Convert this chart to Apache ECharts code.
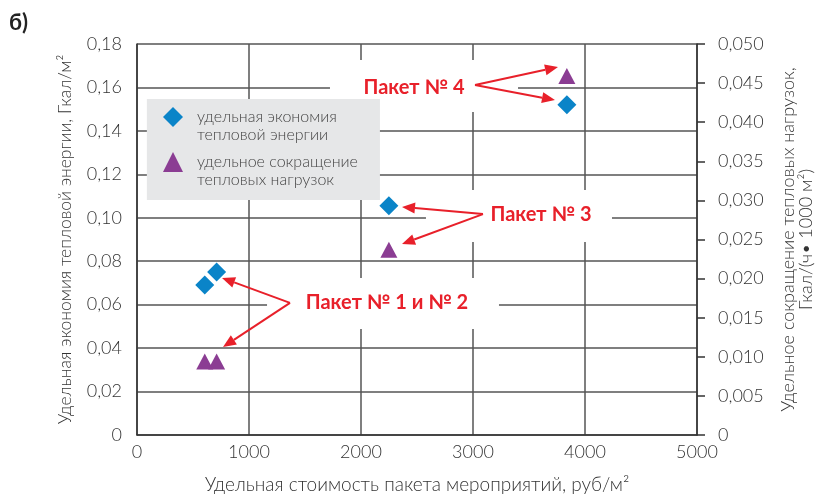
<!DOCTYPE html>
<html><head><meta charset="utf-8">
<script src="https://cdn.jsdelivr.net/npm/echarts@6/dist/echarts.min.js"></script>
<style>html,body{margin:0;padding:0;background:#fff}#c{width:819px;height:496px}</style>
</head><body><div id="c"></div>
<script>
// ---- data ----
const costX = [605, 711, 2249, 3838];                 // руб/м²
const energySaving = [0.069, 0.075, 0.1055, 0.152];   // Гкал/м² (left axis)
const loadReduction = [0.0094, 0.0094, 0.0237, 0.0459]; // Гкал/(ч·1000 м²) (right axis)
const seriesNames = ['удельная экономия\nтепловой энергии', 'удельное сокращение\nтепловых нагрузок'];
const xRange = [0, 5000, 1000];
const yLeftRange = [0, 0.18, 0.02];
const yRightRange = [0, 0.05, 0.005];
// annotations in data coordinates (x, left-axis y)
const annLabels = ['Пакет № 4', 'Пакет № 3', 'Пакет № 1 и № 2'];
const annTextAt = [[2473, 0.160], [3607, 0.1013], [2232, 0.0612]];
const annBoxes = [[[1723, 0.1726], [3402, 0.1487]], [[2580, 0.1128], [4241, 0.0889]], [[1161, 0.0723], [3232, 0.0488]]];
const annFrom = [[3018, 0.1611], [3089, 0.1017], [1366, 0.0608]];
const annTo = [[[3759, 0.1694], [3732, 0.1542]], [[2366, 0.1050], [2366, 0.0879]], [[759, 0.0723], [768, 0.0405]]];

const FONT = 'Lato, "Open Sans", sans-serif';
const RED = '#e8202a';
const comma = (v, d) => v === 0 ? '0' : v.toFixed(d).replace('.', ',');

const chart = echarts.init(document.getElementById('c'));
const option = {
  animation: false,
  backgroundColor: '#fff',
  title: { text: 'б)', left: 9, top: 12, padding: 0, textStyle: { fontSize: 22, fontWeight: 'bold', color: '#222', fontFamily: FONT } },
  grid: { left: 137, right: 122, top: 44, bottom: 61, outerBoundsMode: 'none', containLabel: false },
  legend: {
    orient: 'vertical', left: 163, top: 90, padding: 0, itemGap: -9,
    itemWidth: 20, itemHeight: 20,
    data: seriesNames,
    formatter: n => '\n' + n,
    textStyle: { fontSize: 16, fontWeight: 300, color: '#444', lineHeight: 18, fontFamily: FONT, padding: [0, 0, 0, 9] }
  },
  xAxis: {
    type: 'value', min: xRange[0], max: xRange[1], interval: xRange[2],
    name: 'Удельная стоимость пакета мероприятий, руб/м²', nameLocation: 'middle', nameGap: 40,
    nameTextStyle: { fontSize: 19, fontWeight: 300, color: '#333', fontFamily: FONT },
    axisLine: { show: true, lineStyle: { color: '#333', width: 1.5 } },
    axisTick: { show: false },
    axisLabel: { fontSize: 18, fontWeight: 300, color: '#333', margin: 8, fontFamily: FONT, formatter: v => String(v) },
    splitLine: { show: true, lineStyle: { color: '#555', width: 1.5 } }
  },
  yAxis: [{
    type: 'value', min: yLeftRange[0], max: yLeftRange[1], interval: yLeftRange[2],
    position: 'left',
    name: 'Удельная экономия тепловой энергии, Гкал/м²', nameLocation: 'middle', nameGap: 63, nameRotate: 90,
    nameTextStyle: { fontSize: 17.5, fontWeight: 300, color: '#333', fontFamily: FONT },
    axisLine: { show: true, lineStyle: { color: '#333', width: 1.5 } },
    axisTick: { show: false },
    axisLabel: { fontSize: 18, fontWeight: 300, color: '#333', margin: 15, fontFamily: FONT, formatter: v => comma(v, 2) },
    splitLine: { show: true, lineStyle: { color: '#555', width: 1.5 } }
  }, {
    type: 'value', min: yRightRange[0], max: yRightRange[1], interval: yRightRange[2],
    position: 'right',
    name: 'Удельное сокращение тепловых нагрузок,\nГкал/(ч• 1000 м²)', nameLocation: 'middle', nameGap: 82, nameRotate: 90,
    nameTextStyle: { fontSize: 18, fontWeight: 300, color: '#333', fontFamily: FONT, lineHeight: 18 },
    axisLine: { show: true, lineStyle: { color: '#333', width: 1.5 } },
    axisTick: { show: true, inside: false, length: 8, lineStyle: { color: '#333', width: 1.5 } },
    axisLabel: { fontSize: 18, fontWeight: 300, color: '#333', margin: 21, fontFamily: FONT, formatter: v => comma(v, 3) },
    splitLine: { show: false }
  }],
  series: [{
    name: seriesNames[0], type: 'scatter', yAxisIndex: 0,
    symbol: 'diamond', symbolSize: 19,
    itemStyle: { color: '#0a84c8', opacity: 1 },
    data: costX.map((x, i) => [x, energySaving[i]])
  }, {
    name: seriesNames[1], type: 'scatter', yAxisIndex: 1,
    symbol: 'triangle', symbolSize: [17, 16],
    itemStyle: { color: '#8b3d93', opacity: 1 },
    data: costX.map((x, i) => [x, loadReduction[i]])
  }]
};
chart.setOption(option);

const px = p => [chart.convertToPixel({ xAxisIndex: 0 }, p[0]), chart.convertToPixel({ yAxisIndex: 0 }, p[1])];
function arrow(a, b) {
  const dx = b[0] - a[0], dy = b[1] - a[1], L = Math.hypot(dx, dy), ux = dx / L, uy = dy / L;
  const hl = 13, hw = 5.5;
  const bx = b[0] - ux * hl, by = b[1] - uy * hl;
  return [
    { type: 'line', z: 5, shape: { x1: a[0], y1: a[1], x2: bx, y2: by }, style: { stroke: RED, lineWidth: 2 } },
    { type: 'polygon', z: 5, shape: { points: [b, [bx - uy * hw, by + ux * hw], [bx + uy * hw, by - ux * hw]] }, style: { fill: RED } }
  ];
}
const g = [];
// legend background box
const lb1 = px([88, 0.1547]), lb2 = px([2169, 0.1082]);
g.push({ type: 'rect', z: 3, shape: { x: lb1[0], y: lb1[1], width: lb2[0] - lb1[0], height: lb2[1] - lb1[1] }, style: { fill: '#e6e7e8' } });
annLabels.forEach((t, i) => {
  const b1 = px(annBoxes[i][0]), b2 = px(annBoxes[i][1]);
  g.push({ type: 'rect', z: 1, shape: { x: b1[0], y: b1[1], width: b2[0] - b1[0], height: b2[1] - b1[1] }, style: { fill: '#fff' } });
  const c = px(annTextAt[i]);
  g.push({ type: 'text', z: 6, x: c[0], y: c[1], style: { text: t, fill: RED, font: 'bold 20px ' + FONT, align: 'center', verticalAlign: 'middle' } });
  const f = px(annFrom[i]);
  annTo[i].forEach(tp => g.push(...arrow(f, px(tp))));
});
chart.setOption({ graphic: g });
</script></body></html>
